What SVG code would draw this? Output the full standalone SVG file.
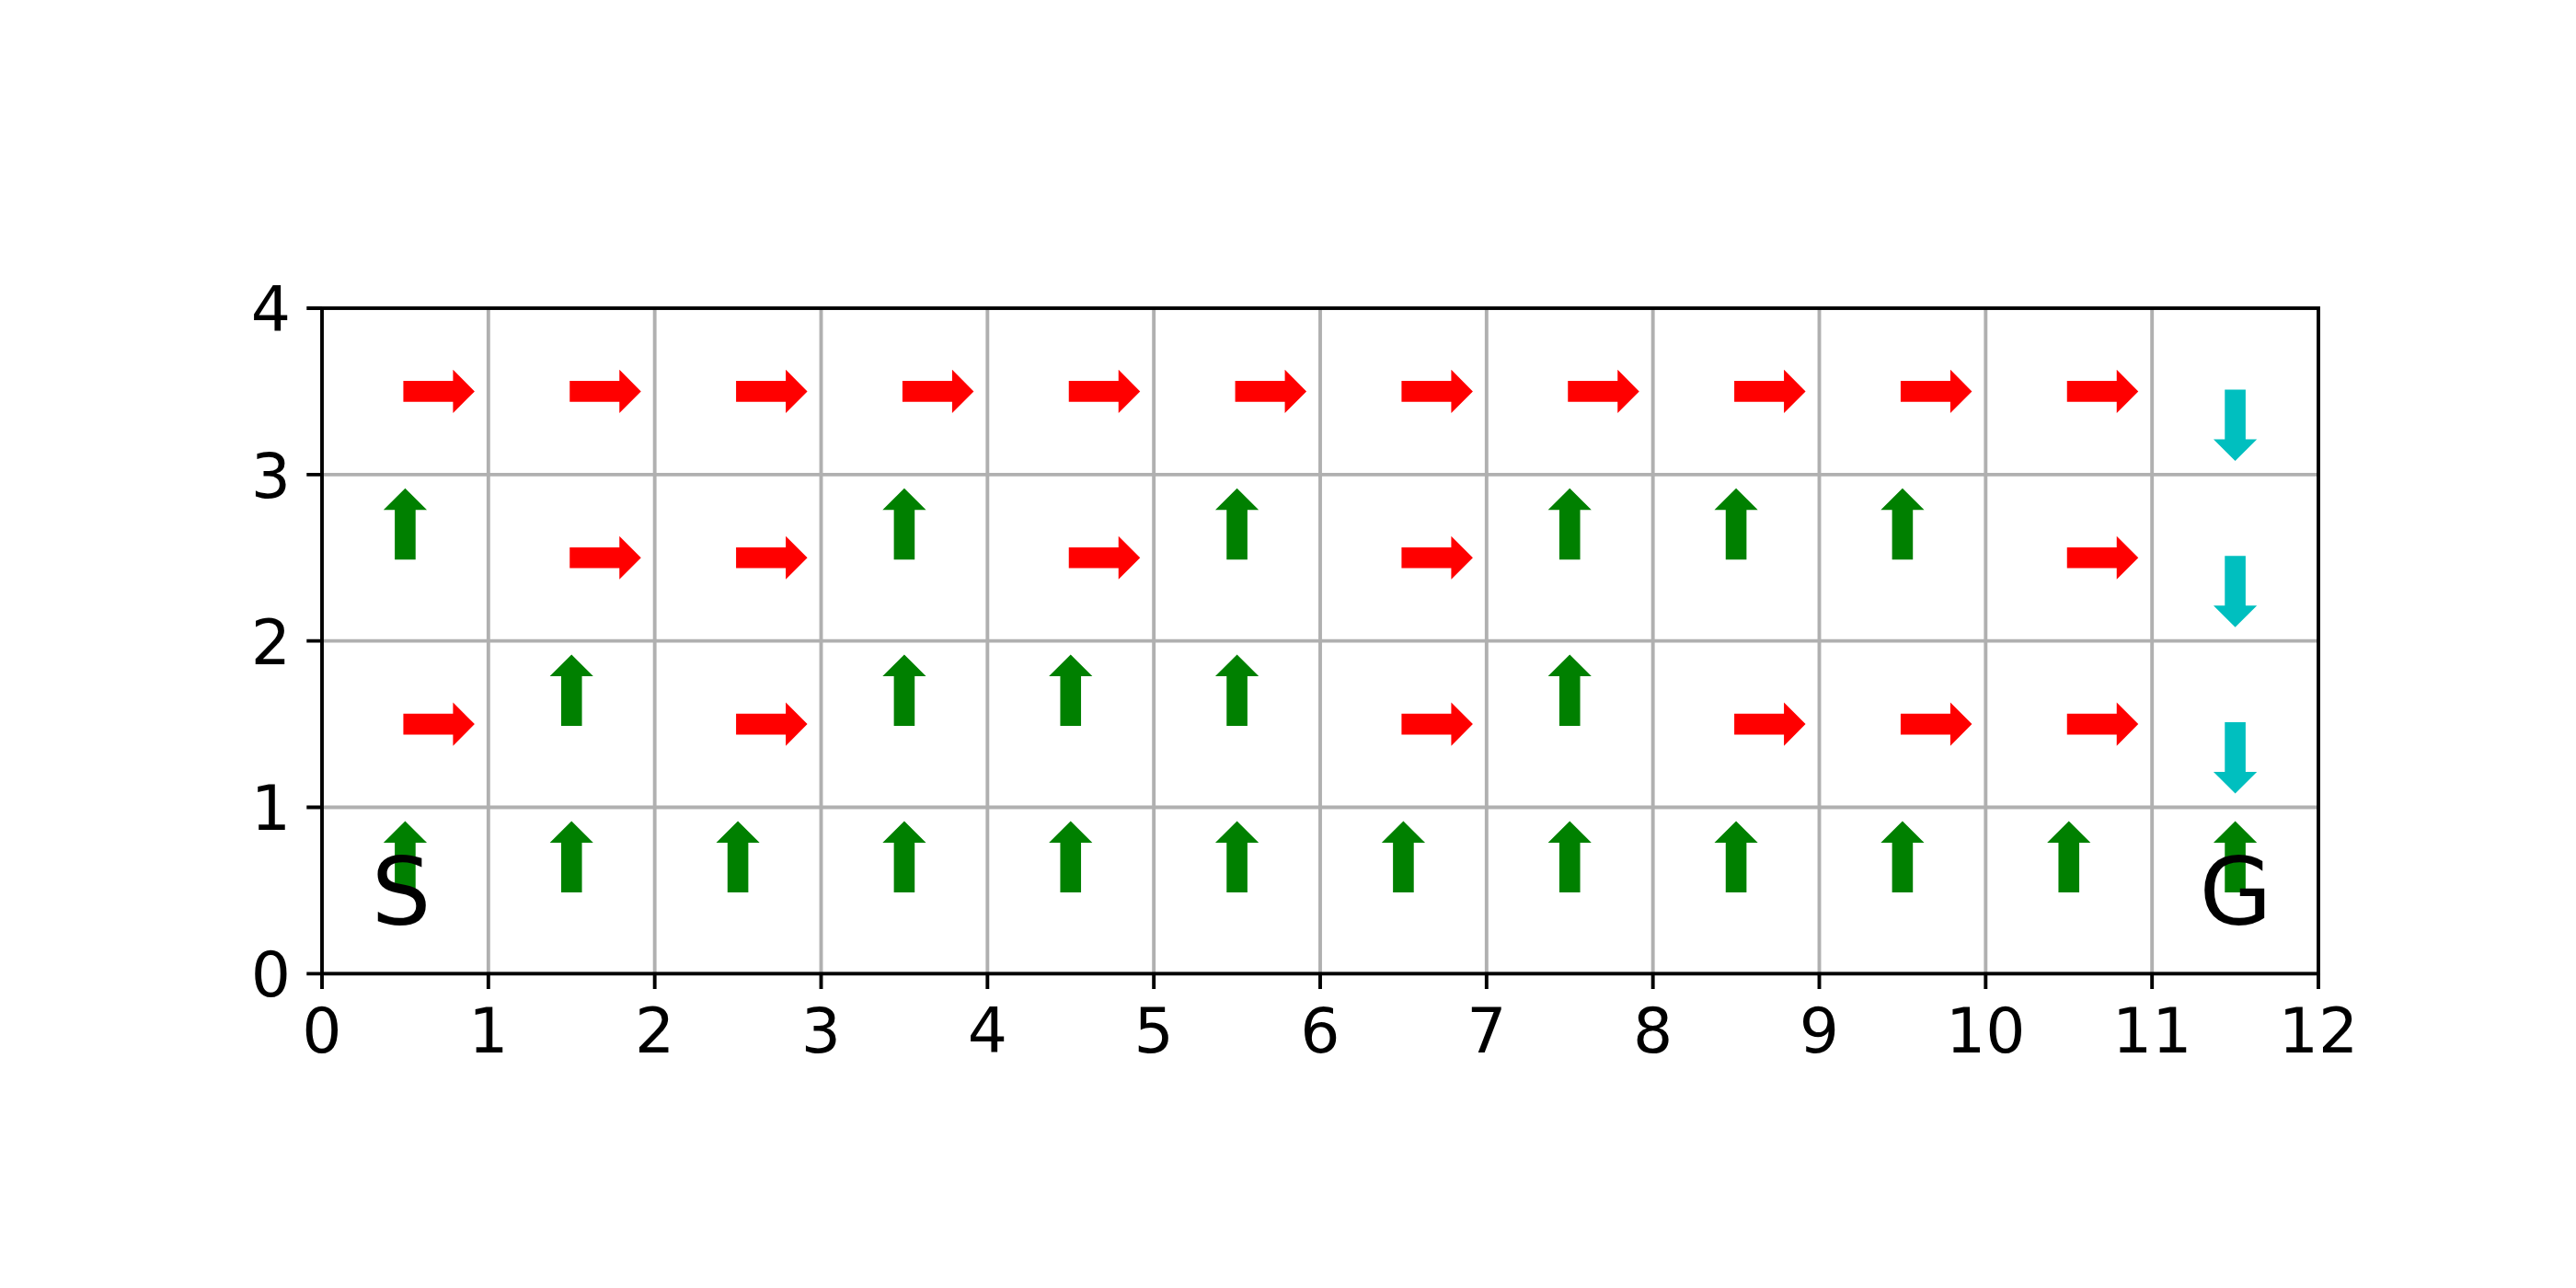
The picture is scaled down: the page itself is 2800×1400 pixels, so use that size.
<svg xmlns="http://www.w3.org/2000/svg" xmlns:xlink="http://www.w3.org/1999/xlink" width="2800" height="1400" viewBox="0 0 2800 1400">
<style>
.grid{stroke:#b0b0b0;stroke-width:3.9;fill:none}
.spine{stroke:#000;stroke-width:3.9;fill:none;stroke-linecap:square}
.tick{stroke:#000;stroke-width:3.9}
.lbl{font-family:"DejaVu Sans","Liberation Sans",sans-serif;font-size:68px;fill:#000}
.big{font-family:"DejaVu Sans","Liberation Sans",sans-serif;font-size:102px;fill:#000;text-anchor:middle}
.r{fill:#ff0000}
.g{fill:#008000}
.c{fill:#00bfbf}
</style>
<defs>
<path id="arr" d="M -2 -11.3 L 52 -11.3 L 52 -23.6 L 75.5 0 L 52 23.6 L 52 11.3 L -2 11.3 Z"/>
</defs>
<rect width="2800" height="1400" fill="#fff"/>
<g id="grid">
<path class="grid" d="M530.83 335V1058.33M711.67 335V1058.33M892.5 335V1058.33M1073.33 335V1058.33M1254.17 335V1058.33M1435 335V1058.33M1615.83 335V1058.33M1796.67 335V1058.33M1977.5 335V1058.33M2158.33 335V1058.33M2339.17 335V1058.33M350 877.5H2520M350 696.67H2520M350 515.83H2520"/>
</g>
<g id="connectors">
<!-- row 3 (top) -->
<use href="#arr" class="r" transform="translate(440.42 425.42)"/>
<use href="#arr" class="r" transform="translate(621.25 425.42)"/>
<use href="#arr" class="r" transform="translate(802.08 425.42)"/>
<use href="#arr" class="r" transform="translate(982.92 425.42)"/>
<use href="#arr" class="r" transform="translate(1163.75 425.42)"/>
<use href="#arr" class="r" transform="translate(1344.58 425.42)"/>
<use href="#arr" class="r" transform="translate(1525.42 425.42)"/>
<use href="#arr" class="r" transform="translate(1706.25 425.42)"/>
<use href="#arr" class="r" transform="translate(1887.08 425.42)"/>
<use href="#arr" class="r" transform="translate(2067.92 425.42)"/>
<use href="#arr" class="r" transform="translate(2248.75 425.42)"/>
<use href="#arr" class="c" transform="translate(2429.58 425.42) rotate(90)"/>
<!-- row 2 -->
<use href="#arr" class="g" transform="translate(440.42 606.25) rotate(-90)"/>
<use href="#arr" class="r" transform="translate(621.25 606.25)"/>
<use href="#arr" class="r" transform="translate(802.08 606.25)"/>
<use href="#arr" class="g" transform="translate(982.92 606.25) rotate(-90)"/>
<use href="#arr" class="r" transform="translate(1163.75 606.25)"/>
<use href="#arr" class="g" transform="translate(1344.58 606.25) rotate(-90)"/>
<use href="#arr" class="r" transform="translate(1525.42 606.25)"/>
<use href="#arr" class="g" transform="translate(1706.25 606.25) rotate(-90)"/>
<use href="#arr" class="g" transform="translate(1887.08 606.25) rotate(-90)"/>
<use href="#arr" class="g" transform="translate(2067.92 606.25) rotate(-90)"/>
<use href="#arr" class="r" transform="translate(2248.75 606.25)"/>
<use href="#arr" class="c" transform="translate(2429.58 606.25) rotate(90)"/>
<!-- row 1 -->
<use href="#arr" class="r" transform="translate(440.42 787.08)"/>
<use href="#arr" class="g" transform="translate(621.25 787.08) rotate(-90)"/>
<use href="#arr" class="r" transform="translate(802.08 787.08)"/>
<use href="#arr" class="g" transform="translate(982.92 787.08) rotate(-90)"/>
<use href="#arr" class="g" transform="translate(1163.75 787.08) rotate(-90)"/>
<use href="#arr" class="g" transform="translate(1344.58 787.08) rotate(-90)"/>
<use href="#arr" class="r" transform="translate(1525.42 787.08)"/>
<use href="#arr" class="g" transform="translate(1706.25 787.08) rotate(-90)"/>
<use href="#arr" class="r" transform="translate(1887.08 787.08)"/>
<use href="#arr" class="r" transform="translate(2067.92 787.08)"/>
<use href="#arr" class="r" transform="translate(2248.75 787.08)"/>
<use href="#arr" class="c" transform="translate(2429.58 787.08) rotate(90)"/>
<!-- row 0 -->
<use href="#arr" class="g" transform="translate(440.42 967.92) rotate(-90)"/>
<use href="#arr" class="g" transform="translate(621.25 967.92) rotate(-90)"/>
<use href="#arr" class="g" transform="translate(802.08 967.92) rotate(-90)"/>
<use href="#arr" class="g" transform="translate(982.92 967.92) rotate(-90)"/>
<use href="#arr" class="g" transform="translate(1163.75 967.92) rotate(-90)"/>
<use href="#arr" class="g" transform="translate(1344.58 967.92) rotate(-90)"/>
<use href="#arr" class="g" transform="translate(1525.42 967.92) rotate(-90)"/>
<use href="#arr" class="g" transform="translate(1706.25 967.92) rotate(-90)"/>
<use href="#arr" class="g" transform="translate(1887.08 967.92) rotate(-90)"/>
<use href="#arr" class="g" transform="translate(2067.92 967.92) rotate(-90)"/>
<use href="#arr" class="g" transform="translate(2248.75 967.92) rotate(-90)"/>
<use href="#arr" class="g" transform="translate(2429.58 967.92) rotate(-90)"/>
</g>
<g id="start"><text class="big" x="436" y="1005">S</text></g>
<g id="goal"><text class="big" x="2430" y="1005">G</text></g>
<g id="axes">
<rect class="spine" x="350" y="335" width="2170" height="723.33"/>
<path class="tick" d="M350 1058.33V1075M530.83 1058.33V1075M711.67 1058.33V1075M892.5 1058.33V1075M1073.33 1058.33V1075M1254.17 1058.33V1075M1435 1058.33V1075M1615.83 1058.33V1075M1796.67 1058.33V1075M1977.5 1058.33V1075M2158.33 1058.33V1075M2339.17 1058.33V1075M2520 1058.33V1075"/>
<path class="tick" d="M350 1058.33H333.3M350 877.5H333.3M350 696.67H333.3M350 515.83H333.3M350 335H333.3"/>
</g>
<g id="xlabels" class="lbl" text-anchor="middle">
<text x="350" y="1143.5">0</text>
<text x="530.83" y="1143.5">1</text>
<text x="711.67" y="1143.5">2</text>
<text x="892.5" y="1143.5">3</text>
<text x="1073.33" y="1143.5">4</text>
<text x="1254.17" y="1143.5">5</text>
<text x="1435" y="1143.5">6</text>
<text x="1615.83" y="1143.5">7</text>
<text x="1796.67" y="1143.5">8</text>
<text x="1977.5" y="1143.5">9</text>
<text x="2158.33" y="1143.5">10</text>
<text x="2339.17" y="1143.5">11</text>
<text x="2520" y="1143.5">12</text>
</g>
<g id="ylabels" class="lbl" text-anchor="end">
<text x="316" y="1083">0</text>
<text x="316" y="902.3">1</text>
<text x="316" y="721.5">2</text>
<text x="316" y="540.6">3</text>
<text x="316" y="359.8">4</text>
</g>
</svg>
